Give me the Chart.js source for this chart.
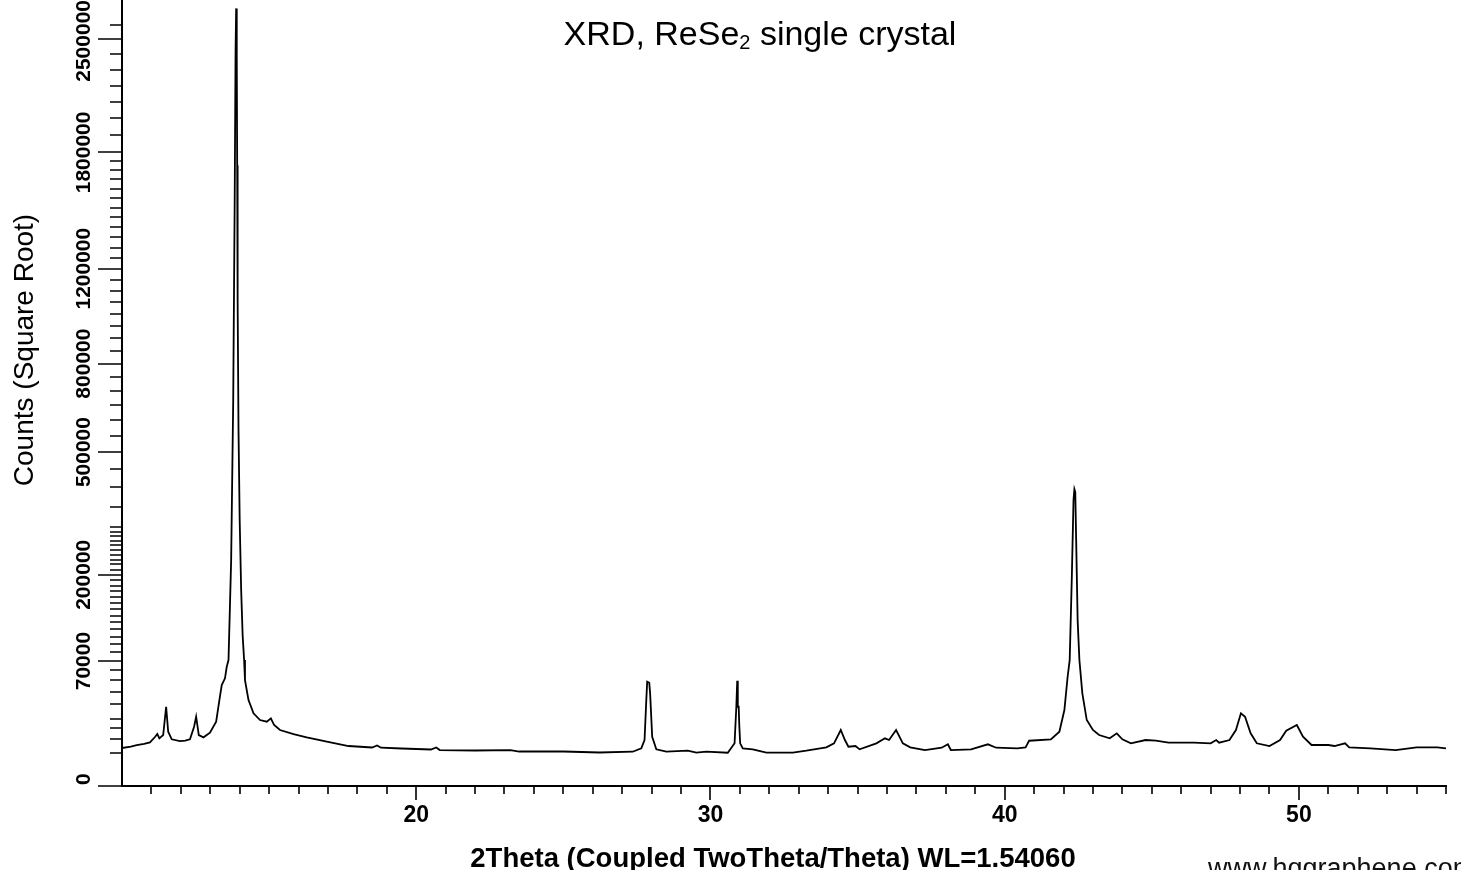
<!DOCTYPE html>
<html><head><meta charset="utf-8">
<script src="https://cdn.jsdelivr.net/npm/chart.js@4.4.1/dist/chart.umd.min.js"></script>
<style>html,body{margin:0;padding:0;background:#fff;}canvas{display:block;}</style>
</head><body>
<canvas id="c" width="1461" height="870"></canvas>
<script>
// ---- data (2Theta in degrees, intensity in counts) ----
const twoTheta = [
 10.00,10.30,10.50,10.75,10.95,11.12,11.20,11.27,11.40,11.50,11.57,11.69,11.97,12.15,12.31,12.45,12.52,12.61,12.77,12.99,
 13.20,13.31,13.39,13.50,13.56,13.62,13.71,13.78,13.83,13.86,13.88,13.895,13.905,13.915,13.93,13.96,14.00,14.05,14.10,14.15,
 14.18,14.30,14.47,14.69,14.92,15.06,15.17,15.37,15.83,16.28,16.96,17.70,18.50,18.67,18.80,19.50,20.50,20.68,20.80,22.00,
 23.20,23.50,25.00,26.23,27.36,27.65,27.76,27.82,27.85,27.92,27.95,28.02,28.16,28.50,29.23,29.52,29.86,30.59,30.82,30.88,
 30.91,30.93,30.96,30.98,31.01,31.10,31.44,31.90,32.80,33.26,33.94,34.20,34.43,34.57,34.69,34.93,35.07,35.64,35.93,36.07,
 36.31,36.54,36.79,37.29,37.86,38.07,38.17,38.86,39.43,39.71,40.43,40.71,40.83,41.57,41.86,42.03,42.14,42.21,42.28,42.34,
 42.37,42.40,42.43,42.48,42.54,42.64,42.79,43.00,43.21,43.57,43.81,44.00,44.29,44.79,45.14,45.57,46.43,47.00,47.19,47.29,
 47.64,47.86,48.03,48.17,48.36,48.57,49.00,49.36,49.57,49.93,50.14,50.43,51.00,51.21,51.57,51.71,52.43,53.29,54.00,54.71,
 55.00
];
const counts = [
 6470,6990,7460,7980,8550,10750,12110,10190,11650,28170,13210,9770,9070,9200,9770,15750,21510,11650,10620,12720,
 18520,33130,45690,51960,63750,71110,228800,667400,1538100,2426400,2711200,2650000,2393500,1727400,1058000,567600,316900,172100,102100,71110,
 50330,33130,23670,19510,18520,20530,16670,14050,12110,10620,8790,7170,6640,7350,6570,6300,5970,6640,5800,5645,
 5800,5330,5330,5030,5270,6370,9480,33130,48730,47800,38490,10890,6030,5270,5580,4970,5270,4970,8170,28170,
 49670,28170,28170,16670,8170,6370,6030,4970,4970,5580,6710,8170,14050,9480,6920,7170,6030,8170,10190,9480,
 14050,8170,6710,5800,6570,7790,5800,6030,7790,6570,6370,6710,9190,9770,13210,25870,53510,71110,190100,366400,
 395100,387200,271100,123400,71110,38490,19510,14050,11650,10190,12440,9770,8170,9480,9190,8400,8400,8170,9480,8400,
 9480,14050,23670,21510,12440,8170,7170,9480,13700,16670,10890,7530,7530,7170,8170,6710,6370,5800,6710,6710,
 6370
];
const yLabelTicks = [0, 70000, 200000, 500000, 800000, 1200000, 1800000, 2500000];
const yMinorRanges = [[5000, 20000, 5000], [20000, 300000, 10000], [300000, 1800000, 50000], [1800000, 2700000, 100000]];
const xLabelTicks = [20, 30, 40, 50];
const xMinorTicks = [11,12,13,14,15,16,17,18,19,21,22,23,24,25,26,27,28,29,31,32,33,34,35,36,37,38,39,41,42,43,44,45,46,47,48,49,51,52,53,54,55];
const titleParts = ['XRD, ReSe', '2', ' single crystal'];
const yTitle = 'Counts (Square Root)';
const xTitle = '2Theta (Coupled TwoTheta/Theta) WL=1.54060';
const watermark = 'www.hqgraphene.com';

const FONT = "'Liberation Sans', Arial, sans-serif";

// ---- square-root scale ----
class SqrtScale extends Chart.LinearScale {
  getPixelForValue(v) {
    if (v === null || v === undefined || isNaN(v)) return NaN;
    const a = Math.sqrt(this.min), b = Math.sqrt(this.max);
    return this.getPixelForDecimal((Math.sqrt(Math.max(v, 0)) - a) / (b - a));
  }
  getValueForPixel(p) {
    const a = Math.sqrt(this.min), b = Math.sqrt(this.max);
    const s = a + this.getDecimalForPixel(p) * (b - a);
    return s * s;
  }
}
SqrtScale.id = 'sqrt';
SqrtScale.defaults = Chart.LinearScale.defaults;
Chart.register(SqrtScale);

const yMinorTicks = [];
for (const [a, b, st] of yMinorRanges) {
  for (let v = a; v < b; v += st) if (!yLabelTicks.includes(v)) yMinorTicks.push(v);
}

const decor = {
  id: 'decor',
  afterDraw(chart) {
    const ctx = chart.ctx, ys = chart.scales.y, xs = chart.scales.x, ca = chart.chartArea;
    ctx.save();
    ctx.strokeStyle = '#000';
    ctx.fillStyle = '#000';
    ctx.lineWidth = 1.6;
    const axX = ca.left;
    ctx.beginPath();
    for (const v of yMinorTicks) { const y = Math.round(ys.getPixelForValue(v)); ctx.moveTo(110, y); ctx.lineTo(axX, y); }
    for (const v of yLabelTicks) { const y = Math.round(ys.getPixelForValue(v)); ctx.moveTo(98, y); ctx.lineTo(axX, y); }
    const axY = ca.bottom;
    for (const v of xMinorTicks) { const x = Math.round(xs.getPixelForValue(v)); ctx.moveTo(x, axY); ctx.lineTo(x, axY + 8); }
    for (const v of xLabelTicks) { const x = Math.round(xs.getPixelForValue(v)); ctx.moveTo(x, axY); ctx.lineTo(x, axY + 14); }
    ctx.stroke();
    // y tick labels (rotated)
    ctx.font = 'bold 21px ' + FONT;
    ctx.textAlign = 'center';
    ctx.textBaseline = 'middle';
    for (const v of yLabelTicks) {
      const txt = String(v);
      const hw = ctx.measureText(txt).width / 2;
      let y = ys.getPixelForValue(v);
      y = Math.min(y, ca.bottom - hw - 1);
      y = Math.max(y, hw);
      ctx.save(); ctx.translate(84, y); ctx.rotate(-Math.PI / 2); ctx.fillText(txt, 0, 0); ctx.restore();
    }
    // y title
    ctx.font = '28px ' + FONT;
    ctx.save(); ctx.translate(25, 350); ctx.rotate(-Math.PI / 2); ctx.fillText(yTitle, 0, 0); ctx.restore();
    // x title
    ctx.font = 'bold 27.5px ' + FONT;
    ctx.textBaseline = 'alphabetic';
    ctx.fillText(xTitle, 773, 867);
    // watermark (cut by the bottom edge)
    ctx.font = '27px ' + FONT;
    ctx.textAlign = 'left';
    ctx.fillStyle = '#111';
    ctx.fillText(watermark, 1208, 877);
    // chart title with subscript
    ctx.fillStyle = '#000';
    const big = '34px ' + FONT, small = '20px ' + FONT;
    ctx.font = big; const w1 = ctx.measureText(titleParts[0]).width, w3 = ctx.measureText(titleParts[2]).width;
    ctx.font = small; const w2 = ctx.measureText(titleParts[1]).width;
    let x0 = 760 - (w1 + w2 + w3) / 2;
    const base = 45;
    ctx.font = big; ctx.fillText(titleParts[0], x0, base); x0 += w1;
    ctx.font = small; ctx.fillText(titleParts[1], x0, base + 4); x0 += w2;
    ctx.font = big; ctx.fillText(titleParts[2], x0, base);
    ctx.restore();
  }
};

new Chart(document.getElementById('c'), {
  type: 'line',
  data: {
    datasets: [{
      data: twoTheta.map((t, i) => ({ x: t, y: counts[i] })),
      borderColor: '#000',
      borderWidth: 1.8,
      pointRadius: 0,
      tension: 0,
      fill: false
    }]
  },
  options: {
    responsive: false,
    devicePixelRatio: 1,
    animation: false,
    layout: { padding: { left: 0, right: 15, top: 0, bottom: 0 } },
    plugins: { legend: { display: false }, tooltip: { enabled: false }, title: { display: false } },
    scales: {
      x: {
        type: 'linear', min: 10, max: 55,
        grid: { display: false, drawTicks: false },
        border: { display: true, color: '#000', width: 2 },
        afterBuildTicks: s => { s.ticks = xLabelTicks.map(v => ({ value: v })); },
        afterFit: s => { s.height = 84; },
        ticks: { autoSkip: false, maxRotation: 0, color: '#000', padding: 16, font: { family: FONT, size: 23, weight: 'bold' } }
      },
      y: {
        type: 'sqrt', min: 0, max: 2770000,
        grid: { display: false, drawTicks: false },
        border: { display: true, color: '#000', width: 2 },
        ticks: { display: false },
        afterFit: s => { s.width = 122; }
      }
    }
  },
  plugins: [decor]
});
</script>
</body></html>
